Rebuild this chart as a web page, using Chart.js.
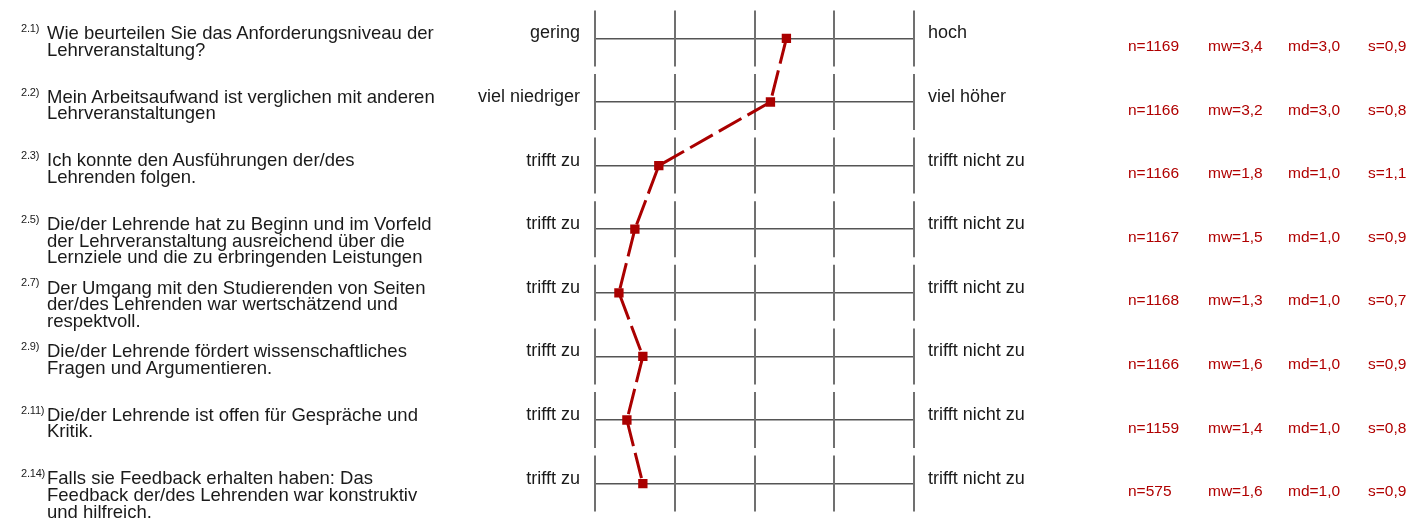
<!DOCTYPE html>
<html>
<head>
<meta charset="utf-8">
<script src="https://cdn.jsdelivr.net/npm/chart.js@4.4.1/dist/chart.umd.min.js"></script>
<style>
  html, body { margin: 0; padding: 0; background: #fff; }
  #wrap { position: relative; width: 1409px; height: 522px; overflow: hidden; font-family: "Liberation Sans", Arial, sans-serif; }
  #c { position: absolute; left: 0; top: 0; }
  .q { position: absolute; left: 47px; font-size: 18.5px; line-height: 16.7px; color: #1a1a1a; white-space: nowrap; }
  .num { position: absolute; left: 21px; font-size: 11px; line-height: 11px; letter-spacing: -0.2px; color: #1a1a1a; white-space: nowrap; }
  .st { position: absolute; font-size: 15.5px; line-height: 16px; color: #b00000; white-space: nowrap; }
</style>
</head>
<body>
<div id="wrap"><canvas id="c" width="1409" height="522"></canvas></div>
<script>
const questionNumbers = ["2.1)", "2.2)", "2.3)", "2.5)", "2.7)", "2.9)", "2.11)", "2.14)"];
const questions = [
  ["Wie beurteilen Sie das Anforderungsniveau der", "Lehrveranstaltung?"],
  ["Mein Arbeitsaufwand ist verglichen mit anderen", "Lehrveranstaltungen"],
  ["Ich konnte den Ausführungen der/des", "Lehrenden folgen."],
  ["Die/der Lehrende hat zu Beginn und im Vorfeld", "der Lehrveranstaltung ausreichend über die", "Lernziele und die zu erbringenden Leistungen"],
  ["Der Umgang mit den Studierenden von Seiten", "der/des Lehrenden war wertschätzend und", "respektvoll."],
  ["Die/der Lehrende fördert wissenschaftliches", "Fragen und Argumentieren."],
  ["Die/der Lehrende ist offen für Gespräche und", "Kritik."],
  ["Falls sie Feedback erhalten haben: Das", "Feedback der/des Lehrenden war konstruktiv", "und hilfreich."]
];
const leftLabels = ["gering", "viel niedriger", "trifft zu", "trifft zu", "trifft zu", "trifft zu", "trifft zu", "trifft zu"];
const rightLabels = ["hoch", "viel höher", "trifft nicht zu", "trifft nicht zu", "trifft nicht zu", "trifft nicht zu", "trifft nicht zu", "trifft nicht zu"];
const means = [3.4, 3.2, 1.8, 1.5, 1.3, 1.6, 1.4, 1.6];
const nValues = ["1169", "1166", "1166", "1167", "1168", "1166", "1159", "575"];
const mwValues = ["3,4", "3,2", "1,8", "1,5", "1,3", "1,6", "1,4", "1,6"];
const mdValues = ["3,0", "3,0", "1,0", "1,0", "1,0", "1,0", "1,0", "1,0"];
const sValues = ["0,9", "0,8", "1,1", "0,9", "0,7", "0,9", "0,8", "0,9"];
const scaleSteps = [1, 2, 3, 4, 5];

const FONT = '"Liberation Sans", Arial, sans-serif';

const segmentPlugin = {
  id: 'segments',
  beforeDatasetsDraw(chart) {
    const ctx = chart.ctx, xs = chart.scales.x, ys = chart.scales.y;
    ctx.save();
    ctx.strokeStyle = '#707070';
    ctx.lineWidth = 2;
    means.forEach((_, i) => {
      const yc = ys.getPixelForValue(i);
      scaleSteps.forEach(v => {
        const x = Math.round(xs.getPixelForValue(v));
        ctx.beginPath();
        ctx.moveTo(x, yc - 28);
        ctx.lineTo(x, yc + 28);
        ctx.stroke();
      });
    });
    ctx.restore();
  }
};

const rowTicks = (scale) => { scale.ticks = means.map((_, i) => ({ value: i })); };
const fitSide = (s) => { s.width = 200; s.paddingTop = 0; s.paddingBottom = 0; };

const chart = new Chart(document.getElementById('c'), {
  type: 'line',
  data: {
    datasets: [{
      data: means.map((m, i) => ({ x: m, y: i })),
      borderColor: '#aa0000',
      backgroundColor: '#aa0000',
      borderWidth: 3,
      borderDash: [26, 7],
      pointStyle: 'rect',
      pointRadius: 6.6,
      pointBorderWidth: 0,
      pointBackgroundColor: '#aa0000',
      tension: 0,
      yAxisID: 'y'
    }]
  },
  options: {
    responsive: false,
    devicePixelRatio: 1,
    animation: false,
    events: [],
    layout: { padding: { left: 395, right: 295, top: 4, bottom: 6 } },
    plugins: { legend: { display: false }, tooltip: { enabled: false } },
    scales: {
      x: { type: 'linear', min: 1, max: 5, display: false },
      y: {
        type: 'linear', position: 'left', min: -0.5, max: 7.5, reverse: true,
        afterBuildTicks: rowTicks,
        afterFit: fitSide,
        border: { display: false },
        grid: { display: true, drawTicks: false, color: '#555', lineWidth: 1.5 },
        ticks: {
          autoSkip: false, padding: 15, labelOffset: -5, color: '#1a1a1a',
          font: { family: FONT, size: 18 },
          callback: (v, idx) => leftLabels[idx]
        }
      },
      y2: {
        type: 'linear', position: 'right', min: -0.5, max: 7.5, reverse: true,
        afterBuildTicks: rowTicks,
        afterFit: fitSide,
        border: { display: false },
        grid: { display: false, drawTicks: false },
        ticks: {
          autoSkip: false, padding: 14, labelOffset: -5, color: '#1a1a1a',
          font: { family: FONT, size: 18 },
          callback: (v, idx) => rightLabels[idx]
        }
      }
    }
  },
  plugins: [segmentPlugin]
});

const wrap = document.getElementById('wrap');
const ys = chart.scales.y;
function addDiv(cls, html, left, top) {
  const d = document.createElement('div');
  d.className = cls;
  d.innerHTML = html;
  if (left !== null) d.style.left = left + 'px';
  d.style.top = top + 'px';
  wrap.appendChild(d);
}
questions.forEach((lines, i) => {
  const yc = ys.getPixelForValue(i);
  addDiv('num', questionNumbers[i], null, yc - 15.5);
  addDiv('q', lines.join('<br>'), null, yc - 13.3);
  const stTop = yc - 0.4;
  addDiv('st', 'n=' + nValues[i], 1128, stTop);
  addDiv('st', 'mw=' + mwValues[i], 1208, stTop);
  addDiv('st', 'md=' + mdValues[i], 1288, stTop);
  addDiv('st', 's=' + sValues[i], 1368, stTop);
});
</script>
</body>
</html>
